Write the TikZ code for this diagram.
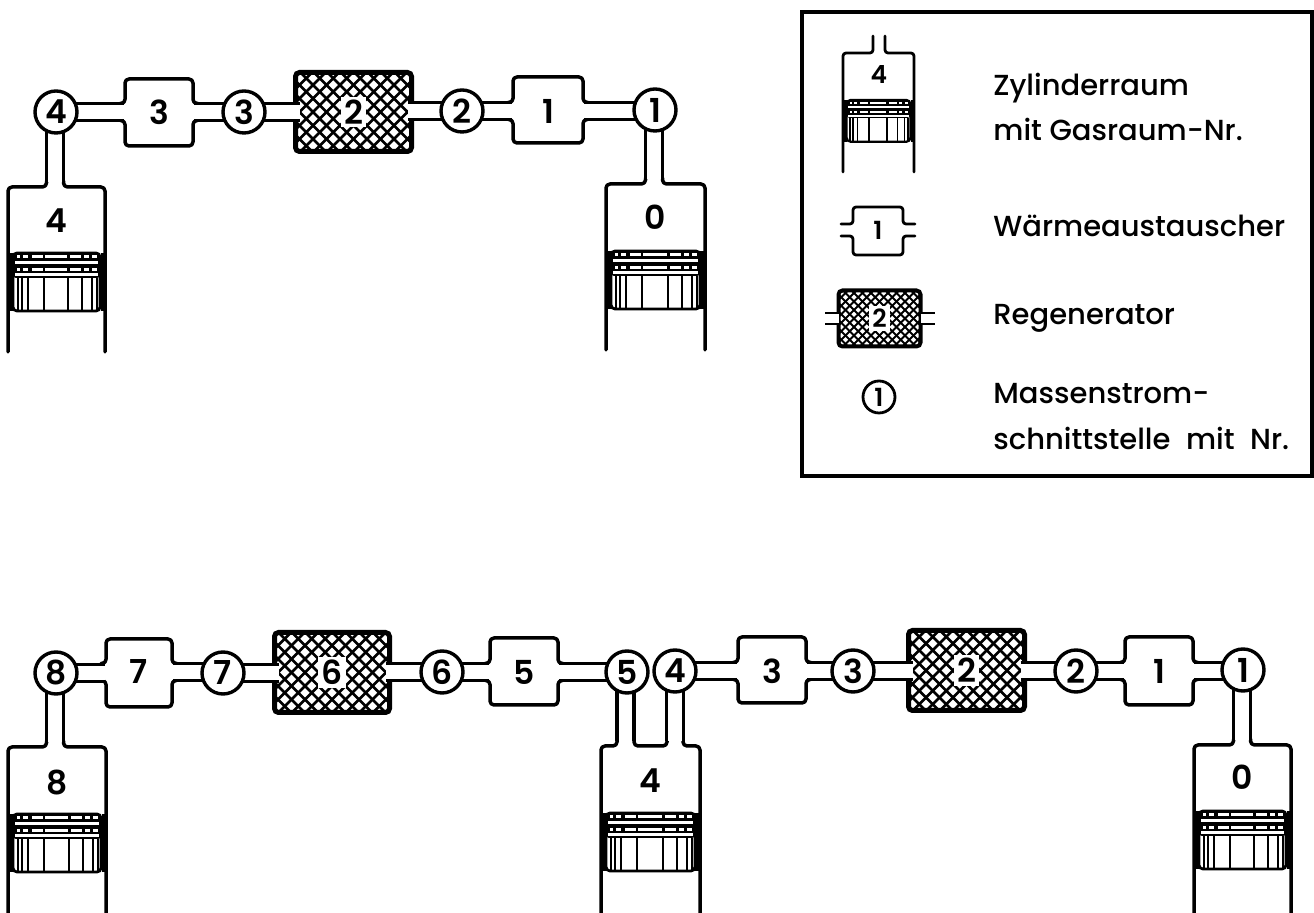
\documentclass[tikz,border=0pt]{standalone}
\usepackage{fontspec}
\setmainfont{Poppins}
\newfontfamily\legfont{Poppins Medium}
\newfontfamily\digfont{Poppins SemiBold}
\pgfdeclarelayer{boxes}
\pgfdeclarelayer{pipes}
\pgfsetlayers{boxes,pipes,main}
\tikzset{
  wall/.style={draw=black,line width=1.75pt,line cap=round,line join=round,rounded corners=2pt},
  pipe/.style={draw=black,line width=1.75pt,double=white,double distance=6.75pt,shorten <=-2pt,shorten >=-2pt},
  digit/.style={font=\digfont\fontsize{16.5}{16.5}\selectfont,text=black,inner sep=0pt},
  port/.style={circle,draw=black,line width=1.7pt,fill=white,minimum size=21pt,inner sep=0pt,outer sep=0pt,digit},
  ghost/.style={inner sep=0pt,outer sep=0pt},
  legendtext/.style={anchor=base west,inner sep=0pt,font=\legfont\fontsize{14.5}{14.5}\selectfont}
}
% name, x1, x2, y1, y2, yc, label, half pipe, stub
\newcommand{\heatx}[9]{%
  \node[ghost,digit,minimum width={(#3-#2+2*#9)*0.5pt},minimum height=10pt] (#1) at ({(#2+#3)/2},{#6}) {#7};
  \begin{pgfonlayer}{boxes}
  \draw[wall] ({#2-#9},{#6-#8})--(#2,{#6-#8})--(#2,#4)--(#3,#4)--(#3,{#6-#8})--({#3+#9},{#6-#8});
  \draw[wall] ({#2-#9},{#6+#8})--(#2,{#6+#8})--(#2,#5)--(#3,#5)--(#3,{#6+#8})--({#3+#9},{#6+#8});
  \end{pgfonlayer}}
% name, x1, x2, y1, y2, label, spacing, hatch width(pt), border width(pt)
\newcommand{\regen}[9]{%
  \begin{pgfonlayer}{boxes}
  \node[draw=black,line width=#9,rounded corners=2pt,inner sep=0pt,outer sep=0pt,
    minimum width={(#3-#2-5)*0.5pt},minimum height={(#5-#4-5)*0.5pt},
    path picture={\foreach \i in {-14,...,14}{
      \draw[line width=#8] ([xshift={\i*#7*0.5pt-60pt},yshift=-60pt]path picture bounding box.center)--([xshift={\i*#7*0.5pt+60pt},yshift=60pt]path picture bounding box.center);
      \draw[line width=#8] ([xshift={\i*#7*0.5pt-60pt},yshift=60pt]path picture bounding box.center)--([xshift={\i*#7*0.5pt+60pt},yshift=-60pt]path picture bounding box.center);
    }},
    label={[digit,fill=white,inner sep=1.5pt]center:#6}] (#1) at ({(#2+#3)/2},{(#4+#5)/2}) {};
  \end{pgfonlayer}}
% xleft, xright, ytop, yscale factor, line width
\newcommand{\piston}[5]{%
  \begin{scope}[shift={(#1,#3)},xscale={(#2-#1)/98},yscale=#4]
  \fill[black] (-1,0) rectangle (5.5,58);
  \fill[black] (93.5,0) rectangle (99,58);
  \draw[fill=white,line width=#5*1.4pt,rounded corners=2pt] (5,0) rectangle (93,58);
  \fill[black,rounded corners=1.5pt] (5,0) rectangle (93,25);
  \fill[white] (7,8.5) rectangle (91,11.5);
  \fill[white] (7,20.5) rectangle (91,23.5);
  \foreach \a/\b in {9/12,15/20,24/35,37/60,63/74,77/82,85/90}{
    \fill[white] (\a,2.5) rectangle (\b,5.5);
    \fill[white] (\a,15) rectangle (\b,18);
  }
  \foreach \v in {10,14,20,36,61,75,85,90}{
    \draw[line width=#5*1pt] (\v,25)--(\v,58);
  }
  \end{scope}}
% name, x1, x2, top, bottom, neck segment, label, label y, piston top
\newcommand{\cylinderbody}[9]{%
  \node[ghost,digit] (#1) at ({(#2+#3)/2},#8) {#7};
  \begin{pgfonlayer}{boxes}
  \draw[wall] (#2,#5)--(#2,#4)--#6--(#3,#4)--(#3,#5);
  \piston{#2}{#3}{#9}{1}{1}
  \end{pgfonlayer}}
\begin{document}
\begin{tikzpicture}[x=0.5pt,y=-0.5pt]
\useasboundingbox (0,0) rectangle (1314,913);
\begin{pgfonlayer}{boxes}
\fill[white] (0,0) rectangle (1314,913);
\end{pgfonlayer}

%% top diagram
\node[port] (ta) at (56,112) {4};
\node[port] (tb) at (244,112) {3};
\node[port] (tc) at (462,111) {2};
\node[port] (td) at (655,110) {1};
\heatx{tx3}{125}{193}{79}{146}{112}{3}{8.5}{5}
\heatx{tx1}{513}{583}{77}{143}{111}{1}{8.5}{5}
\regen{tr2}{293}{414}{70}{154}{2}{13.5}{1.35pt}{2.5pt}
\cylinderbody{tcl}{8}{105}{187}{352}{(46.5,187)--(46.5,181) (63.5,181)--(63.5,187)}{4}{221}{253}
\cylinderbody{tcr}{606}{705}{184}{350}{(645.5,184)--(645.5,178) (662.5,178)--(662.5,184)}{0}{217}{251}
\coordinate (tnl) at (55,182);
\coordinate (tnr) at (654,179);
\begin{pgfonlayer}{pipes}
\draw[pipe] (ta.east) -- (ta.east -| tx3.west);
\draw[pipe] (tx3.east) -- (tb.west);
\draw[pipe] (tb.east) -- (tb.east -| tr2.west);
\draw[pipe] (tc.west -| tr2.east) -- (tc.west);
\draw[pipe] (tc.east) -- (tx1.west);
\draw[pipe] (tx1.east) -- (td.west |- tx1.east);
\draw[pipe,shorten >=0pt] (tnl |- ta.south) -- (tnl);
\draw[pipe,shorten >=0pt] (tnr |- td.south) -- (tnr);
\end{pgfonlayer}

%% bottom diagram
\node[port] (ba) at (56,673) {8};
\node[port] (bb) at (223,673) {7};
\node[port] (bc) at (442,672) {6};
\node[port] (bd) at (627,672) {5};
\node[port] (be) at (675,671) {4};
\node[port] (bf) at (853,671) {3};
\node[port] (bg) at (1076,671) {2};
\node[port] (bh) at (1243,670) {1};
\heatx{bx7}{106}{172}{639}{707}{672}{7}{8.5}{5}
\heatx{bx5}{490}{558}{638}{705}{672}{5}{8.5}{5}
\heatx{bx3}{738}{806}{637}{703}{671}{3}{8.5}{5}
\heatx{bx1}{1125}{1193}{637}{705}{671}{1}{8.5}{5}
\regen{br6}{272}{392}{630}{715}{6}{13.5}{1.35pt}{2.5pt}
\regen{br2}{906}{1027}{628}{713}{2}{13.5}{1.35pt}{2.5pt}
\cylinderbody{bcl}{8}{106}{747}{914}{(46.5,747)--(46.5,741) (63.5,741)--(63.5,747)}{8}{783}{814}
\cylinderbody{bcm}{601}{700}{746}{914}{(617,746)--(617,740) (634,740)--(634,746)--(667,746)--(667,740) (683,740)--(683,746)}{4}{781}{813}
\cylinderbody{bcr}{1194}{1291}{745}{914}{(1233.5,745)--(1233.5,739) (1250.5,739)--(1250.5,745)}{0}{777}{811}
\coordinate (bnl) at (55,742);
\coordinate (bn5) at (625.5,741);
\coordinate (bn4) at (675,741);
\coordinate (bnr) at (1242,740);
\begin{pgfonlayer}{pipes}
\draw[pipe] (ba.east) -- (ba.east -| bx7.west);
\draw[pipe] (bx7.east) -- (bb.west |- bx7.east);
\draw[pipe] (bb.east) -- (bb.east -| br6.west);
\draw[pipe] (bc.west -| br6.east) -- (bc.west);
\draw[pipe] (bc.east) -- (bx5.west);
\draw[pipe] (bx5.east) -- (bd.west);
\draw[pipe] (be.east) -- (bx3.west);
\draw[pipe] (bx3.east) -- (bf.west);
\draw[pipe] (bf.east) -- (bf.east -| br2.west);
\draw[pipe] (bg.west -| br2.east) -- (bg.west);
\draw[pipe] (bg.east) -- (bx1.west);
\draw[pipe] (bx1.east) -- (bh.west |- bx1.east);
\draw[pipe,shorten >=0pt] (bnl |- ba.south) -- (bnl);
\draw[pipe,shorten >=0pt] (bn5 |- bd.south) -- (bn5);
\draw[pipe,shorten >=0pt] (bn4 |- be.south) -- (bn4);
\draw[pipe,shorten >=0pt] (bnr |- bh.south) -- (bnr);
\end{pgfonlayer}

%% legend
\node[draw=black,line width=2pt,inner sep=0pt,outer sep=0pt,minimum width=255pt,minimum height=232pt] (legend) at (1057,244) {};
\begin{scope}
\tikzset{
  digit/.style={font=\digfont\fontsize{12.5}{12.5}\selectfont,text=black,inner sep=0pt},
  wall/.style={draw=black,line width=1.4pt,line cap=round,line join=round,rounded corners=1.5pt},
  pipe/.style={draw=black,line width=1.3pt,line cap=butt,double=white,double distance=4.2pt}
}
\node[ghost,digit] (lc) at (879,75) {4};
\begin{pgfonlayer}{boxes}
\draw[wall] (843,172)--(843,53)--(873,53)--(873,36) (885,36)--(885,53)--(914,53)--(914,172);
\piston{843}{914}{100}{0.72}{0.8}
\end{pgfonlayer}
\heatx{lx}{853}{903}{207}{255}{230}{1}{6}{12}
\regen{lr}{836}{923}{288}{349}{2}{8.5}{1pt}{2pt}
\coordinate (lrl) at (825,318.5);
\coordinate (lrr) at (935,318.5);
\begin{pgfonlayer}{pipes}
\draw[pipe] (lrl) -- (lr.west);
\draw[pipe] (lr.east) -- (lrr);
\end{pgfonlayer}
\node[port,minimum size=16pt,line width=1.4pt] (lp) at (879,397) {1};
\end{scope}
\node[legendtext] (t1) at (993,96) {Zylinderraum};
\node[legendtext] (t2) at (993,141) {mit Gasraum-Nr.};
\node[legendtext] (t3) at (993,237) {Wärmeaustauscher};
\node[legendtext] (t4) at (993,325) {Regenerator};
\node[legendtext] (t5) at (993,404) {Massenstrom-};
\node[legendtext] (t6) at (993,450) {schnittstelle\hspace{4pt} mit\hspace{4pt} Nr.};
\end{tikzpicture}
\end{document}
